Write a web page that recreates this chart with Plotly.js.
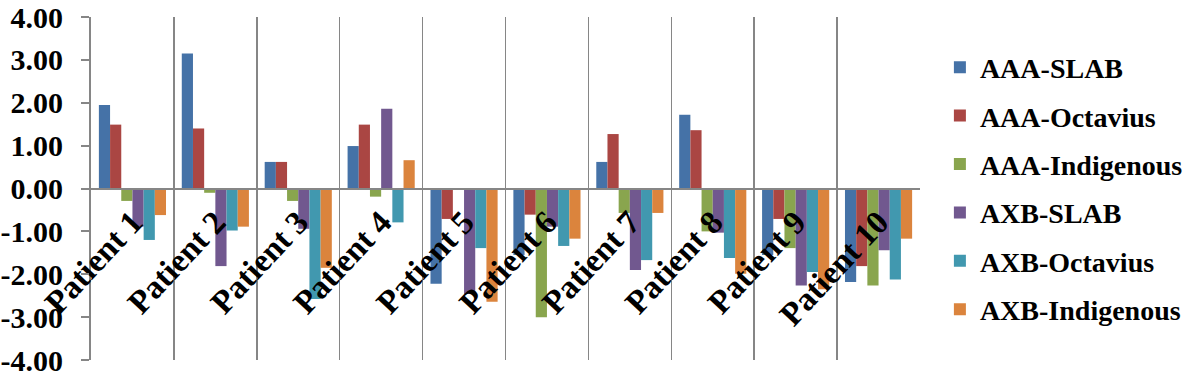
<!DOCTYPE html>
<html>
<head>
<meta charset="utf-8">
<script src="https://cdn.plot.ly/plotly-3.0.1.min.js"></script>
<style>
html,body{margin:0;padding:0;background:#fff;}
#chart{width:1200px;height:380px;}
</style>
</head>
<body>
<div id="chart"></div>
<script>
var categories = ["Patient 1","Patient 2","Patient 3","Patient 4","Patient 5","Patient 6","Patient 7","Patient 8","Patient 9","Patient 10"];
var seriesNames = ["AAA-SLAB","AAA-Octavius","AAA-Indigenous","AXB-SLAB","AXB-Octavius","AXB-Indigenous"];
var aaaSlab       = [1.95, 3.15, 0.62, 0.99, -2.22, -1.55, 0.62, 1.72, -1.55, -2.18];
var aaaOctavius   = [1.49, 1.40, 0.62, 1.49, -0.71, -0.61, 1.27, 1.36, -0.71, -1.81];
var aaaIndigenous = [-0.29, -0.10, -0.29, -0.19, 0.00, -3.00, -0.57, -1.00, -1.39, -2.26];
var axbSlab       = [-0.89, -1.81, -0.94, 1.86, -2.46, -0.89, -1.90, -1.03, -2.26, -1.44];
var axbOctavius   = [-1.20, -0.98, -2.58, -0.79, -1.39, -1.34, -1.67, -1.62, -1.95, -2.12];
var axbIndigenous = [-0.62, -0.89, -1.85, 0.66, -2.64, -1.17, -0.57, -1.99, -2.35, -1.17];
var yTickVals = [-4,-3,-2,-1,0,1,2,3,4];

var seriesValues = [aaaSlab, aaaOctavius, aaaIndigenous, axbSlab, axbOctavius, axbIndigenous];
var colors = ["#4572A7","#AA4643","#89A54E","#71588F","#4198AF","#DB843D"];

var traces = seriesValues.map(function(vals, i){
  return {
    type: "bar",
    name: seriesNames[i],
    x: categories,
    y: vals,
    marker: {color: colors[i], line: {width: 0}},
    legendgroup: "g" + i,
    hoverinfo: "x+y+name"
  };
});

var serif = "Liberation Serif";
var layout = {
  width: 1200,
  height: 380,
  margin: {l: 91, r: 280, t: 17, b: 20, autoexpand: false},
  paper_bgcolor: "#ffffff",
  plot_bgcolor: "#ffffff",
  barmode: "group",
  bargap: 0.19,
  bargroupgap: 0,
  showlegend: true,
  legend: {
    x: 1.024, xanchor: "left",
    y: 0.5, yanchor: "middle",
    font: {family: serif, size: 28, color: "#000", weight: "bold"},
    tracegroupgap: 9,
    bgcolor: "rgba(0,0,0,0)"
  },
  xaxis: {
    type: "category",
    anchor: "free",
    position: 0.5,
    automargin: false,
    showline: true,
    linecolor: "#868686",
    linewidth: 2,
    showgrid: true,
    gridcolor: "#868686",
    gridwidth: 1.5,
    tickson: "boundaries",
    ticks: "",
    tickangle: -47,
    tickfont: {family: serif, size: 33, color: "#000", weight: "bold"},
    zeroline: false,
    fixedrange: true
  },
  yaxis: {
    range: [-4, 4],
    automargin: false,
    tickvals: yTickVals,
    ticktext: yTickVals.map(function(v){ return v.toFixed(2); }),
    showline: true,
    linecolor: "#868686",
    linewidth: 2,
    ticks: "outside",
    ticklen: 8,
    tickwidth: 2,
    tickcolor: "#868686",
    ticklabelstandoff: 12,
    showgrid: false,
    zeroline: false,
    tickfont: {family: serif, size: 30, color: "#000", weight: "bold"},
    fixedrange: true
  }
};

Plotly.newPlot("chart", traces, layout, {displayModeBar: false, staticPlot: true});
</script>
</body>
</html>
